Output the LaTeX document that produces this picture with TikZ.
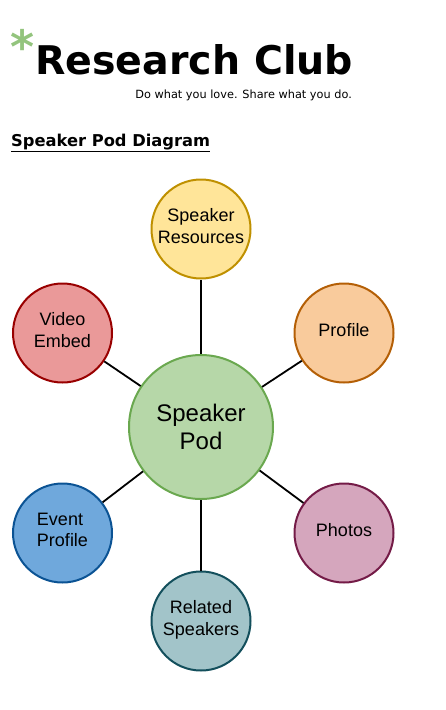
\documentclass[tikz,border=0pt]{standalone}
\usepackage{fontspec}
\setmainfont{Liberation Sans}
\newfontfamily\headfont{DejaVu Sans}
\usepackage{tikz}

\definecolor{podfill}{HTML}{B6D7A8}
\definecolor{poddraw}{HTML}{6AA84F}
\definecolor{resfill}{HTML}{FFE599}
\definecolor{resdraw}{HTML}{BF9000}
\definecolor{proffill}{HTML}{F9CB9C}
\definecolor{profdraw}{HTML}{B45F06}
\definecolor{vidfill}{HTML}{EA9999}
\definecolor{viddraw}{HTML}{990000}
\definecolor{evtfill}{HTML}{6FA8DC}
\definecolor{evtdraw}{HTML}{0B5394}
\definecolor{photofill}{HTML}{D5A6BD}
\definecolor{photodraw}{HTML}{741B47}
\definecolor{relfill}{HTML}{A2C4C9}
\definecolor{reldraw}{HTML}{134F5C}
\definecolor{starcol}{HTML}{93C47D}

\begin{document}
\begin{tikzpicture}[
            x=1pt, y=-1pt,
            pod/.style={circle, draw, line width=2pt, inner sep=0pt,
                minimum size=99pt, align=center, text depth=6pt,
                font=\fontsize{18}{21.5}\selectfont},
            hub/.style={pod, minimum size=144pt, text depth=,
                font=\fontsize{24}{28.5}\selectfont},
            link/.style={draw, line width=1.8pt},
            every node/.style={inner sep=0pt}
        ]
        \useasboundingbox (0,0) rectangle (445,710);
        % heading
        \node[anchor=base west, text=starcol,
            font=\headfont\bfseries\fontsize{46}{46}\selectfont] (star) at (10,63) {*};
        \node[anchor=base west, font=\headfont\bfseries\fontsize{39.5}{40}\selectfont]
            (title) at (35,74) {Research Club};
        \node[anchor=base east, font=\headfont\fontsize{11.3}{12}\selectfont]
            (motto) at (352,98) {Do what you love. Share what you do.};
        \node[anchor=base west, font=\headfont\bfseries\fontsize{16.3}{17}\selectfont]
            (head) at (11,146) {\underline{Speaker Pod Diagram}};
        % pods
        \node[hub, fill=podfill, draw=poddraw] (pod) at (201,427) {Speaker\\Pod};
        \node[pod, fill=resfill, draw=resdraw] (res) at (201,229) {Speaker\\Resources};
        \node[pod, fill=proffill, draw=profdraw] (prof) at (344,333) {Profile};
        \node[pod, fill=vidfill, draw=viddraw] (video) at (62.5,333) {Video\\Embed};
        \node[pod, fill=evtfill, draw=evtdraw, align=left] (event) at (62.5,533) {Event\\Profile};
        \node[pod, fill=photofill, draw=photodraw] (photo) at (344,533) {Photos};
        \node[pod, fill=relfill, draw=reldraw] (rel) at (201,621) {Related\\Speakers};
        % spokes
        \foreach \nodename in {res, prof, photo, rel, event, video}
            \path[link] (pod) -- (\nodename);
\end{tikzpicture}
\end{document}
